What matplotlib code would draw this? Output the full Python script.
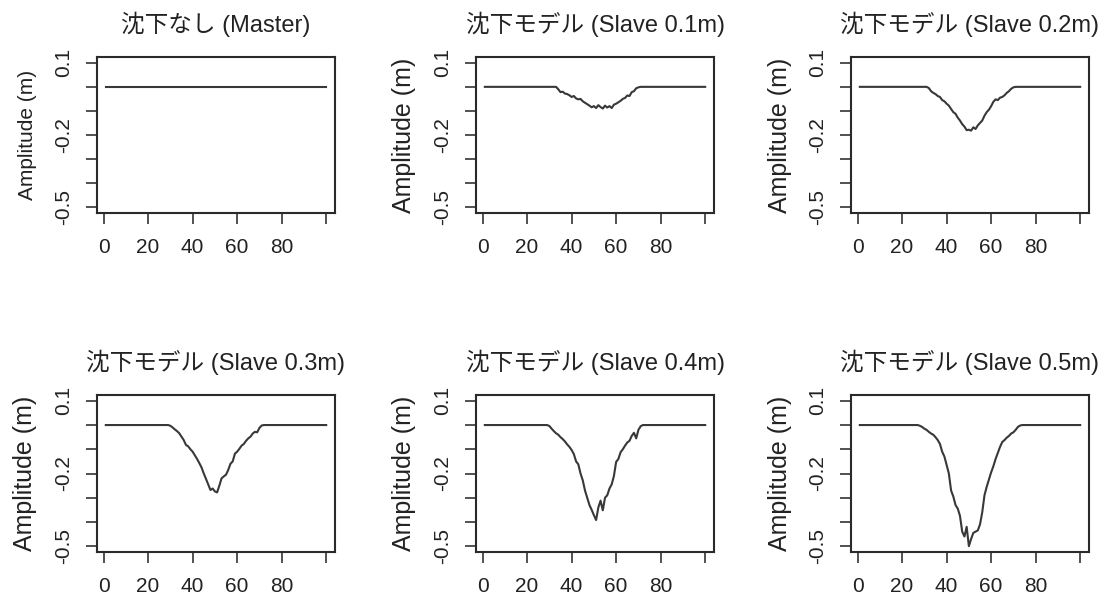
import numpy as np
import matplotlib
matplotlib.use("Agg")
import matplotlib.pyplot as plt

plt.rcParams['font.family'] = ['Liberation Sans', 'Noto Sans CJK JP', 'DejaVu Sans']

# sample index 1..100
x = np.arange(1, 101)

titles = ["沈下なし (Master)", "沈下モデル (Slave 0.1m)", "沈下モデル (Slave 0.2m)",
          "沈下モデル (Slave 0.3m)", "沈下モデル (Slave 0.4m)", "沈下モデル (Slave 0.5m)"]

# trough values; everything outside the trough is 0.0
# (first index of each trough, values)
master_dip = (1, [])
slave01_dip = (34, [-0.010, -0.022, -0.020, -0.028, -0.030, -0.035, -0.042, -0.038, -0.048, -0.052,
                    -0.050, -0.060, -0.066, -0.072, -0.078, -0.085, -0.080, -0.088, -0.076, -0.084,
                    -0.090, -0.078, -0.086, -0.080, -0.088, -0.074, -0.070, -0.064, -0.058, -0.050,
                    -0.046, -0.036, -0.038, -0.022, -0.018, -0.006, -0.002])
slave02_dip = (32, [-0.005, -0.018, -0.025, -0.030, -0.038, -0.042, -0.055, -0.060, -0.070, -0.078,
                    -0.092, -0.105, -0.112, -0.128, -0.140, -0.155, -0.165, -0.180, -0.178, -0.182,
                    -0.168, -0.175, -0.160, -0.150, -0.140, -0.120, -0.105, -0.095, -0.080, -0.062,
                    -0.052, -0.055, -0.045, -0.042, -0.035, -0.025, -0.018, -0.008, -0.002])
slave03_dip = (30, [-0.003, -0.010, -0.018, -0.025, -0.034, -0.048, -0.062, -0.082, -0.088, -0.100,
                    -0.110, -0.125, -0.140, -0.157, -0.175, -0.200, -0.222, -0.245, -0.268, -0.262,
                    -0.274, -0.278, -0.250, -0.220, -0.212, -0.205, -0.185, -0.160, -0.150, -0.118,
                    -0.110, -0.098, -0.085, -0.078, -0.065, -0.055, -0.048, -0.035, -0.028, -0.030,
                    -0.012, -0.002])
slave04_dip = (30, [-0.004, -0.015, -0.025, -0.034, -0.040, -0.050, -0.058, -0.068, -0.080, -0.090,
                    -0.103, -0.120, -0.150, -0.162, -0.200, -0.228, -0.270, -0.300, -0.330, -0.350,
                    -0.372, -0.392, -0.340, -0.312, -0.352, -0.300, -0.290, -0.262, -0.245, -0.210,
                    -0.152, -0.140, -0.112, -0.100, -0.085, -0.072, -0.065, -0.045, -0.032, -0.055,
                    -0.020, -0.005])
slave05_dip = (28, [-0.003, -0.008, -0.015, -0.020, -0.028, -0.035, -0.040, -0.050, -0.062, -0.078,
                    -0.110, -0.130, -0.165, -0.200, -0.270, -0.295, -0.330, -0.345, -0.375, -0.440,
                    -0.460, -0.420, -0.500, -0.470, -0.445, -0.440, -0.435, -0.410, -0.360, -0.290,
                    -0.255, -0.225, -0.195, -0.170, -0.140, -0.115, -0.090, -0.070, -0.062, -0.052,
                    -0.045, -0.035, -0.030, -0.020, -0.008, -0.002])

dips = [master_dip, slave01_dip, slave02_dip, slave03_dip, slave04_dip, slave05_dip]

ytick_vals = [0.1, 0.0, -0.1, -0.2, -0.3, -0.4, -0.5]
ytick_labels = ["0.1", "", "", "-0.2", "", "", "-0.5"]
xtick_vals = [0, 20, 40, 60, 80, 100]
xtick_labels = ["0", "20", "40", "60", "80", ""]


def build_series(dip):
    start, vals = dip
    y = np.zeros(len(x))
    for i, v in enumerate(vals):
        y[start - 1 + i] = v
    return y


fig = plt.figure(figsize=(11.05, 6.01), dpi=100)

lefts = [97 / 1105, 476 / 1105, 851 / 1105]
width = 238 / 1105
rows = [(1 - 213 / 601, 156 / 601), (1 - 552 / 601, 157 / 601)]

for k in range(6):
    r, c = divmod(k, 3)
    ax = fig.add_axes([lefts[c], rows[r][0], width, rows[r][1]])
    ax.plot(x, build_series(dips[k]), color='#383838', linewidth=1.5)

    ax.set_xlim(1 - 0.04 * 99, 100 + 0.04 * 99)
    ax.set_ylim(-0.5 - 0.024, 0.1 + 0.024)
    ax.set_xticks(xtick_vals)
    ax.set_xticklabels(xtick_labels)
    ax.set_yticks(ytick_vals)
    ax.set_yticklabels(ytick_labels, rotation=90, va='center')
    ax.tick_params(direction='out', length=8, width=1.2, labelsize=15,
                   color='#333333', labelcolor='#222222')
    ax.tick_params(axis='x', pad=10)
    ax.tick_params(axis='y', pad=9)
    for s in ax.spines.values():
        s.set_linewidth(1.5)
        s.set_color('#2a2a2a')

    ax.set_title(titles[k], fontsize=17, pad=18, color='#222222')
    ax.set_ylabel("Amplitude (m)", fontsize=15 if k == 0 else 18, color='#222222')
    ax.yaxis.set_label_coords(-0.25, 0.5)

fig.savefig("out.png", dpi=100)
